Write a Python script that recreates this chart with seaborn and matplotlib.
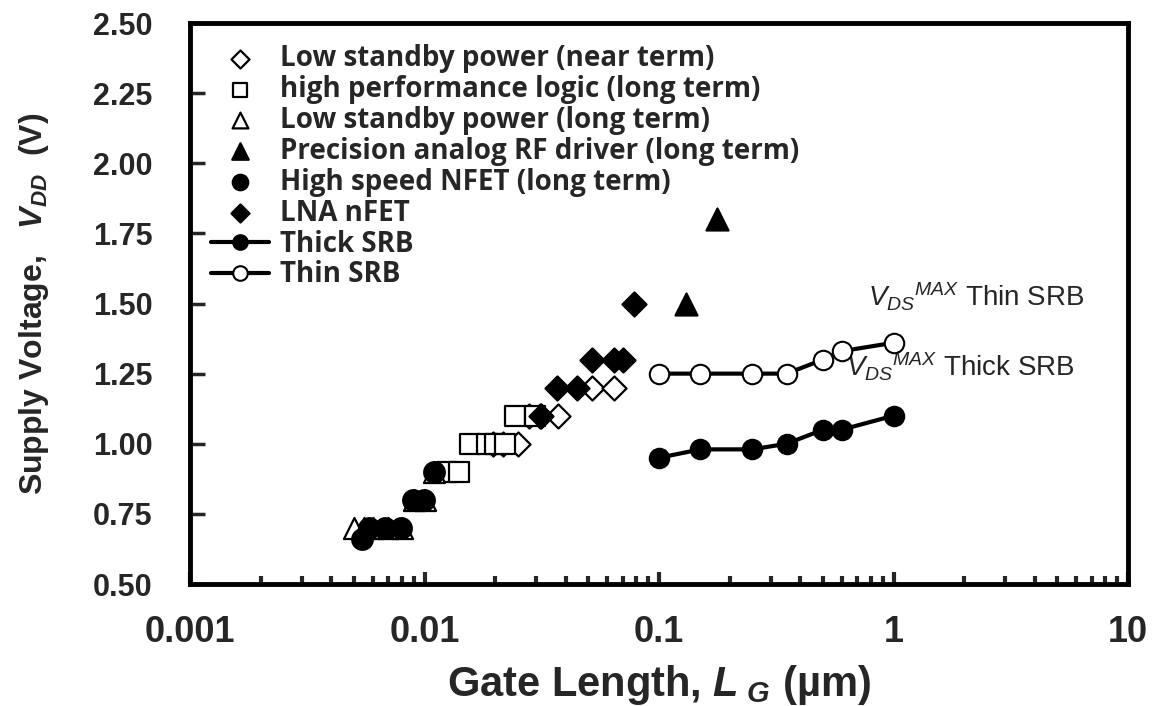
import numpy as np
import pandas as pd
import seaborn as sns
import matplotlib.pyplot as plt
from matplotlib.ticker import LogLocator, FixedLocator, NullFormatter, FixedFormatter

# ---- data ----
lsp_near_x = [0.0196, 0.0216, 0.025, 0.028, 0.031, 0.037, 0.052, 0.064]
lsp_near_y = [1.00, 1.00, 1.00, 1.10, 1.10, 1.10, 1.20, 1.20]

hp_logic_x = [0.0125, 0.014, 0.0156, 0.0185, 0.020, 0.022, 0.0243, 0.0296]
hp_logic_y = [0.90, 0.90, 1.00, 1.00, 1.00, 1.00, 1.10, 1.10]

lsp_long_x = [0.005, 0.0055, 0.006, 0.007, 0.008, 0.009, 0.010, 0.011]
lsp_long_y = [0.70, 0.70, 0.70, 0.70, 0.70, 0.80, 0.80, 0.90]

rf_x = [0.13, 0.177]
rf_y = [1.50, 1.80]

hs_nfet_x = [0.0054, 0.0058, 0.0068, 0.0079, 0.0089, 0.0099, 0.011]
hs_nfet_y = [0.66, 0.70, 0.70, 0.70, 0.80, 0.80, 0.90]

lna_x = [0.0314, 0.0367, 0.0446, 0.052, 0.064, 0.070, 0.078]
lna_y = [1.10, 1.20, 1.20, 1.30, 1.30, 1.30, 1.50]

srb_x = [0.1, 0.15, 0.25, 0.35, 0.5, 0.6, 1.0]
thick_y = [0.95, 0.98, 0.98, 1.00, 1.05, 1.05, 1.10]
thin_y = [1.25, 1.25, 1.25, 1.25, 1.30, 1.33, 1.36]

x_ticks = [0.001, 0.01, 0.1, 1, 10]
x_ticklabels = ["0.001", "0.01", "0.1", "1", "10"]
y_ticks = [0.50, 0.75, 1.00, 1.25, 1.50, 1.75, 2.00, 2.25, 2.50]

srb_df = pd.DataFrame({"Lg": srb_x * 2,
                       "Vdd": thick_y + thin_y,
                       "kind": ["Thick SRB"] * 7 + ["Thin SRB"] * 7})

sns.set_theme(style="white")
plt.rcParams['font.family'] = ['Liberation Sans', 'DejaVu Sans']
plt.rcParams['mathtext.fontset'] = 'custom'
plt.rcParams['mathtext.rm'] = 'Liberation Sans'
plt.rcParams['mathtext.it'] = 'Liberation Sans:italic'
plt.rcParams['mathtext.bf'] = 'Liberation Sans:bold:italic'

fig = plt.figure(figsize=(11.56, 7.06), dpi=100)
ax = fig.add_axes([0.1644, 0.1728, 0.8114, 0.7946])

k = dict(ax=ax, edgecolor="black", linewidth=1.6, zorder=3)
sns.scatterplot(x=lsp_near_x, y=lsp_near_y, marker="D", s=150, color="white",
                label="Low standby power (near term)", **k)
sns.scatterplot(x=hp_logic_x, y=hp_logic_y, marker="s", s=190, color="white",
                label="high performance logic (long term)", **k)
sns.scatterplot(x=lsp_long_x, y=lsp_long_y, marker="^", s=230, color="white",
                label="Low standby power (long term)", **k)
sns.scatterplot(x=rf_x, y=rf_y, marker="^", s=250, color="black",
                label="Precision analog RF driver (long term)", **k)
sns.scatterplot(x=hs_nfet_x, y=hs_nfet_y, marker="o", s=220, color="black",
                label="High speed NFET (long term)", **k)
sns.scatterplot(x=lna_x, y=lna_y, marker="D", s=150, color="black",
                label="LNA nFET", **k)

thick = srb_df[srb_df.kind == "Thick SRB"]
thin = srb_df[srb_df.kind == "Thin SRB"]
sns.lineplot(data=thick, x="Lg", y="Vdd", ax=ax, color="black", lw=3, marker="o",
             markersize=14, markerfacecolor="black", markeredgecolor="black",
             markeredgewidth=1.5, label="Thick SRB", zorder=4, sort=False)
sns.lineplot(data=thin, x="Lg", y="Vdd", ax=ax, color="black", lw=3, marker="o",
             markersize=14, markerfacecolor="white", markeredgecolor="black",
             markeredgewidth=1.5, label="Thin SRB", zorder=4, sort=False)

ax.set_xscale("log")
ax.set_xlim(0.001, 10)
ax.set_ylim(0.5, 2.5)

ax.xaxis.set_major_locator(FixedLocator(x_ticks))
ax.xaxis.set_major_formatter(FixedFormatter(x_ticklabels))
ax.xaxis.set_minor_locator(LogLocator(base=10, subs=np.arange(2, 10)))
ax.xaxis.set_minor_formatter(NullFormatter())
ax.set_yticks(y_ticks)
ax.set_yticklabels([f"{v:.2f}" for v in y_ticks])

ax.tick_params(axis="x", which="major", direction="in", length=9, width=3,
               labelsize=26, pad=22, bottom=True, top=False)
ax.tick_params(axis="x", which="minor", direction="in", length=6, width=3,
               bottom=True, top=False)
ax.tick_params(axis="y", which="major", direction="in", length=11, width=2.5,
               labelsize=22, pad=27, left=True, right=False)
for lab in ax.get_xticklabels() + ax.get_yticklabels():
    lab.set_fontweight("bold")

for sp in ax.spines.values():
    sp.set_linewidth(3.5)
    sp.set_color("black")

ax.set_xlabel(r"Gate Length, $\mathbf{L}_{\ \mathbf{G}}$ (µm)", fontsize=30,
              fontweight="bold", labelpad=10)
ax.set_ylabel(r"Supply Voltage,   $\mathbf{V}_{\mathbf{DD}}$  (V)", fontsize=23,
              fontweight="bold", labelpad=30)

ax.text(0.78, 1.49, r"$V_{DS}{}^{MAX}$ Thin SRB", fontsize=20, va="baseline")
ax.text(0.63, 1.24, r"$V_{DS}{}^{MAX}$ Thick SRB", fontsize=20, va="baseline")

handles, labels = ax.get_legend_handles_labels()
leg = ax.legend(handles, labels, loc="upper left", bbox_to_anchor=(0.0, 1.0),
                frameon=False, markerscale=0.75, handlelength=2.1,
                handletextpad=0.38, labelspacing=0.07, borderaxespad=0.35,
                prop={"family": "Open Sans", "weight": "bold", "size": 20})

fig.savefig("out.png", dpi=100)
